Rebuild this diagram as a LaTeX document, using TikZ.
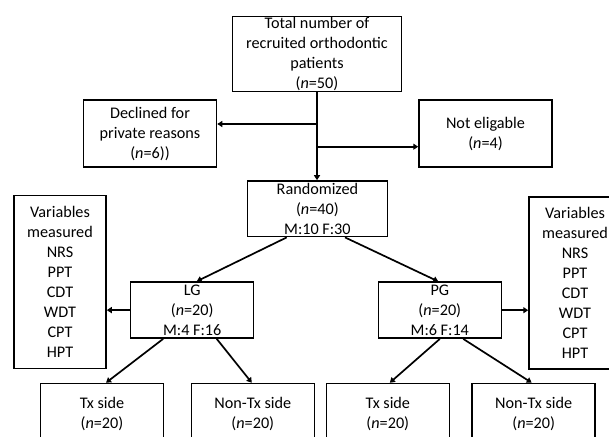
\documentclass[tikz,border=0pt]{standalone}
\usepackage{fontspec}
\setmainfont{Carlito}
\usetikzlibrary{arrows.meta}
\begin{document}
\begin{tikzpicture}[x=1pt,y=-1pt,
  box/.style={draw,line width=1.5pt,inner sep=0pt,align=center,
    minimum width=123pt,minimum height=56pt,font=\fontsize{16.2}{20}\selectfont},
  arr/.style={line width=1.7pt,-{Triangle[width=6pt,length=5pt]}}]

\useasboundingbox (0,0) rectangle (609,436);
\clip (0,0) rectangle (609,436);

\node[box,minimum width=169pt,minimum height=75pt] (total) at (317,54.2) {Total number of\\recruited orthodontic\\patients\\(\textit{n}=50)};
\node[box,minimum width=133pt,minimum height=67pt] (declined) at (150,133.7) {Declined for\\private reasons\\(\textit{n}=6))};
\node[box,minimum width=133pt,minimum height=67pt] (noteli) at (485.5,133.7) {Not eligable\\(\textit{n}=4)};
\node[box,minimum width=140pt,minimum height=55.7pt] (rand) at (317.4,208.8) {Randomized\\(\textit{n}=40)\\M:10 F:30};

\node[box,minimum width=92pt,minimum height=173pt] (varsL) at (60,281.8) {Variables\\measured\\NRS\\PPT\\CDT\\WDT\\CPT\\HPT};
\node[box,minimum width=92pt,minimum height=172pt] (varsR) at (575,283) {Variables\\measured\\NRS\\PPT\\CDT\\WDT\\CPT\\HPT};

\node[box] (lg) at (192.2,310.1) {LG\\(\textit{n}=20)\\M:4 F:16};
\node[box] (pg) at (439.8,310.2) {PG\\(\textit{n}=20)\\M:6 F:14};

\node[box,minimum height=60pt] (txL) at (102,413.5) {Tx side\\(\textit{n}=20)};
\node[box,minimum height=60pt] (ntxL) at (252.8,413.5) {Non-Tx side\\(\textit{n}=20)};
\node[box,minimum height=60pt] (txP) at (387.8,413.5) {Tx side\\(\textit{n}=20)};
\node[box,minimum height=60pt] (ntxP) at (533.7,413.5) {Non-Tx side\\(\textit{n}=20)};

% exclusions
\coordinate (jd) at (317,124);
\coordinate (je) at (317,146.7);
\draw[arr] (total.south) -- (total.south |- rand.north);
\draw[arr] (jd) -- (jd -| declined.east);
\draw[arr] (je) -- (je -| noteli.west);

% allocation
\draw[arr] ([xshift=-30.7pt]rand.south) -- ([xshift=4.5pt]lg.north);
\draw[arr] ([xshift=27.6pt]rand.south) -- ([xshift=-1.5pt]pg.north);
\draw[arr] (lg.west) -- (lg.west -| varsL.east);
\draw[arr] (pg.east) -- (pg.east -| varsR.west);

% sides
\draw[arr] ([xshift=-29pt]lg.south) -- ([xshift=4pt]txL.north);
\draw[arr] ([xshift=24.5pt]lg.south) -- ([xshift=-1pt]ntxL.north);
\draw[arr] (pg.south) -- ([xshift=2pt]txP.north);
\draw[arr] ([xshift=23.5pt]pg.south) -- ([xshift=-2pt]ntxP.north);

\end{tikzpicture}
\end{document}
